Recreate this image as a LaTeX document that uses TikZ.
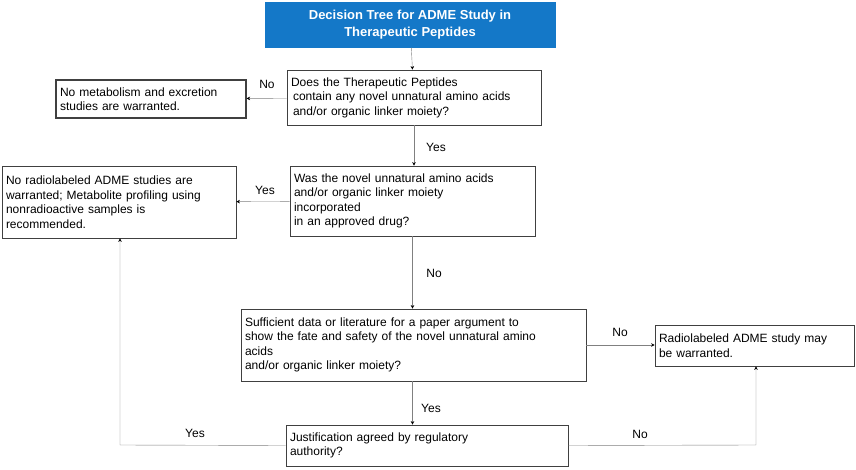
\documentclass[tikz,border=0pt]{standalone}
\usepackage{fontspec}
\setmainfont{Liberation Sans}
\usetikzlibrary{arrows.meta}
\definecolor{titleblue}{HTML}{1478C8}
\begin{document}
\begin{tikzpicture}[
       x=1pt, y=-1pt,
       box/.style={
         draw=black!75,
         thick,
         align=left,
         inner sep=3pt,
         font=\fontsize{12}{14.5}\selectfont
       },
       link/.style={
         draw=black!50,
         -{Stealth[length=3.5pt,width=3.5pt,black]}
       },
       tag/.style={
         font=\fontsize{12}{14.5}\selectfont
       }
     ]
       \useasboundingbox (0,0) rectangle (856,470);

       \node (title) at (410,24.5) [box, draw=titleblue, fill=titleblue, text=white, align=center,
         minimum width=290pt, minimum height=45pt, font=\bfseries\fontsize{13}{17}\selectfont]
         {Decision Tree for ADME Study in\\Therapeutic Peptides};
       \node (q1) at (414,97.5) [box, minimum width=254pt, minimum height=55pt, text width=246pt]
         {Does the Therapeutic Peptides\\ \,contain any novel unnatural amino acids\\ \,and/or organic linker moiety?};
       \node (nomet) at (151,99) [box, very thick, minimum width=190pt, minimum height=38pt, text width=182pt]
         {No metabolism and excretion\\studies are warranted.};
       \node (q2) at (412.5,201) [box, minimum width=245pt, minimum height=70pt, text width=237pt]
         {Was the novel unnatural amino acids\\and/or organic linker moiety\\incorporated\\in an approved drug?};
       \node (norad) at (119,202) [box, minimum width=234pt, minimum height=72pt, text width=226pt]
         {No radiolabeled ADME studies are\\warranted; Metabolite profiling using\\nonradioactive samples is\\recommended.};
       \node (q3) at (413.5,345) [box, minimum width=345pt, minimum height=72pt, text width=337pt]
         {Sufficient data or literature for a paper argument to\\show the fate and safety of the novel unnatural amino\\acids\\and/or organic linker moiety?};
       \node (rad) at (754.5,345.5) [box, minimum width=199pt, minimum height=41pt, text width=191pt]
         {Radiolabeled ADME study may\\be warranted.};
       \node (q4) at (427,445.5) [box, minimum width=282pt, minimum height=41pt, text width=274pt]
         {Justification agreed by regulatory\\authority?};

       \coordinate (c1) at (120,445);
       \coordinate (c2) at (756,445);

       \draw [link] (title) -- (q1);
       \draw [link] (q1) -- (nomet);
       \draw [link] (q1.south) -- (q2.north -| q1.south);
       \draw [link] (q2) -- (norad);
       \draw [link] (q2.south) -- (q3.north -| q2.south);
       \draw [link] (q3.east) -- (rad.west |- q3.east);
       \draw [link] (q3.south -| q2.south) -- (q4.north -| q2.south);
       \draw [link] (q4.west) -- (c1) -- (c1 |- norad.south);
       \draw [link] (q4.east) -- (c2) -- (c2 |- rad.south);

       \node (t1) at (267,84) [tag] {No};
       \node (t2) at (436,147) [tag] {Yes};
       \node (t3) at (265,190) [tag] {Yes};
       \node (t4) at (434,273) [tag] {No};
       \node (t5) at (620,332) [tag] {No};
       \node (t6) at (431,408) [tag] {Yes};
       \node (t7) at (195,433) [tag] {Yes};
       \node (t8) at (640,434) [tag] {No};

\end{tikzpicture}
\end{document}
